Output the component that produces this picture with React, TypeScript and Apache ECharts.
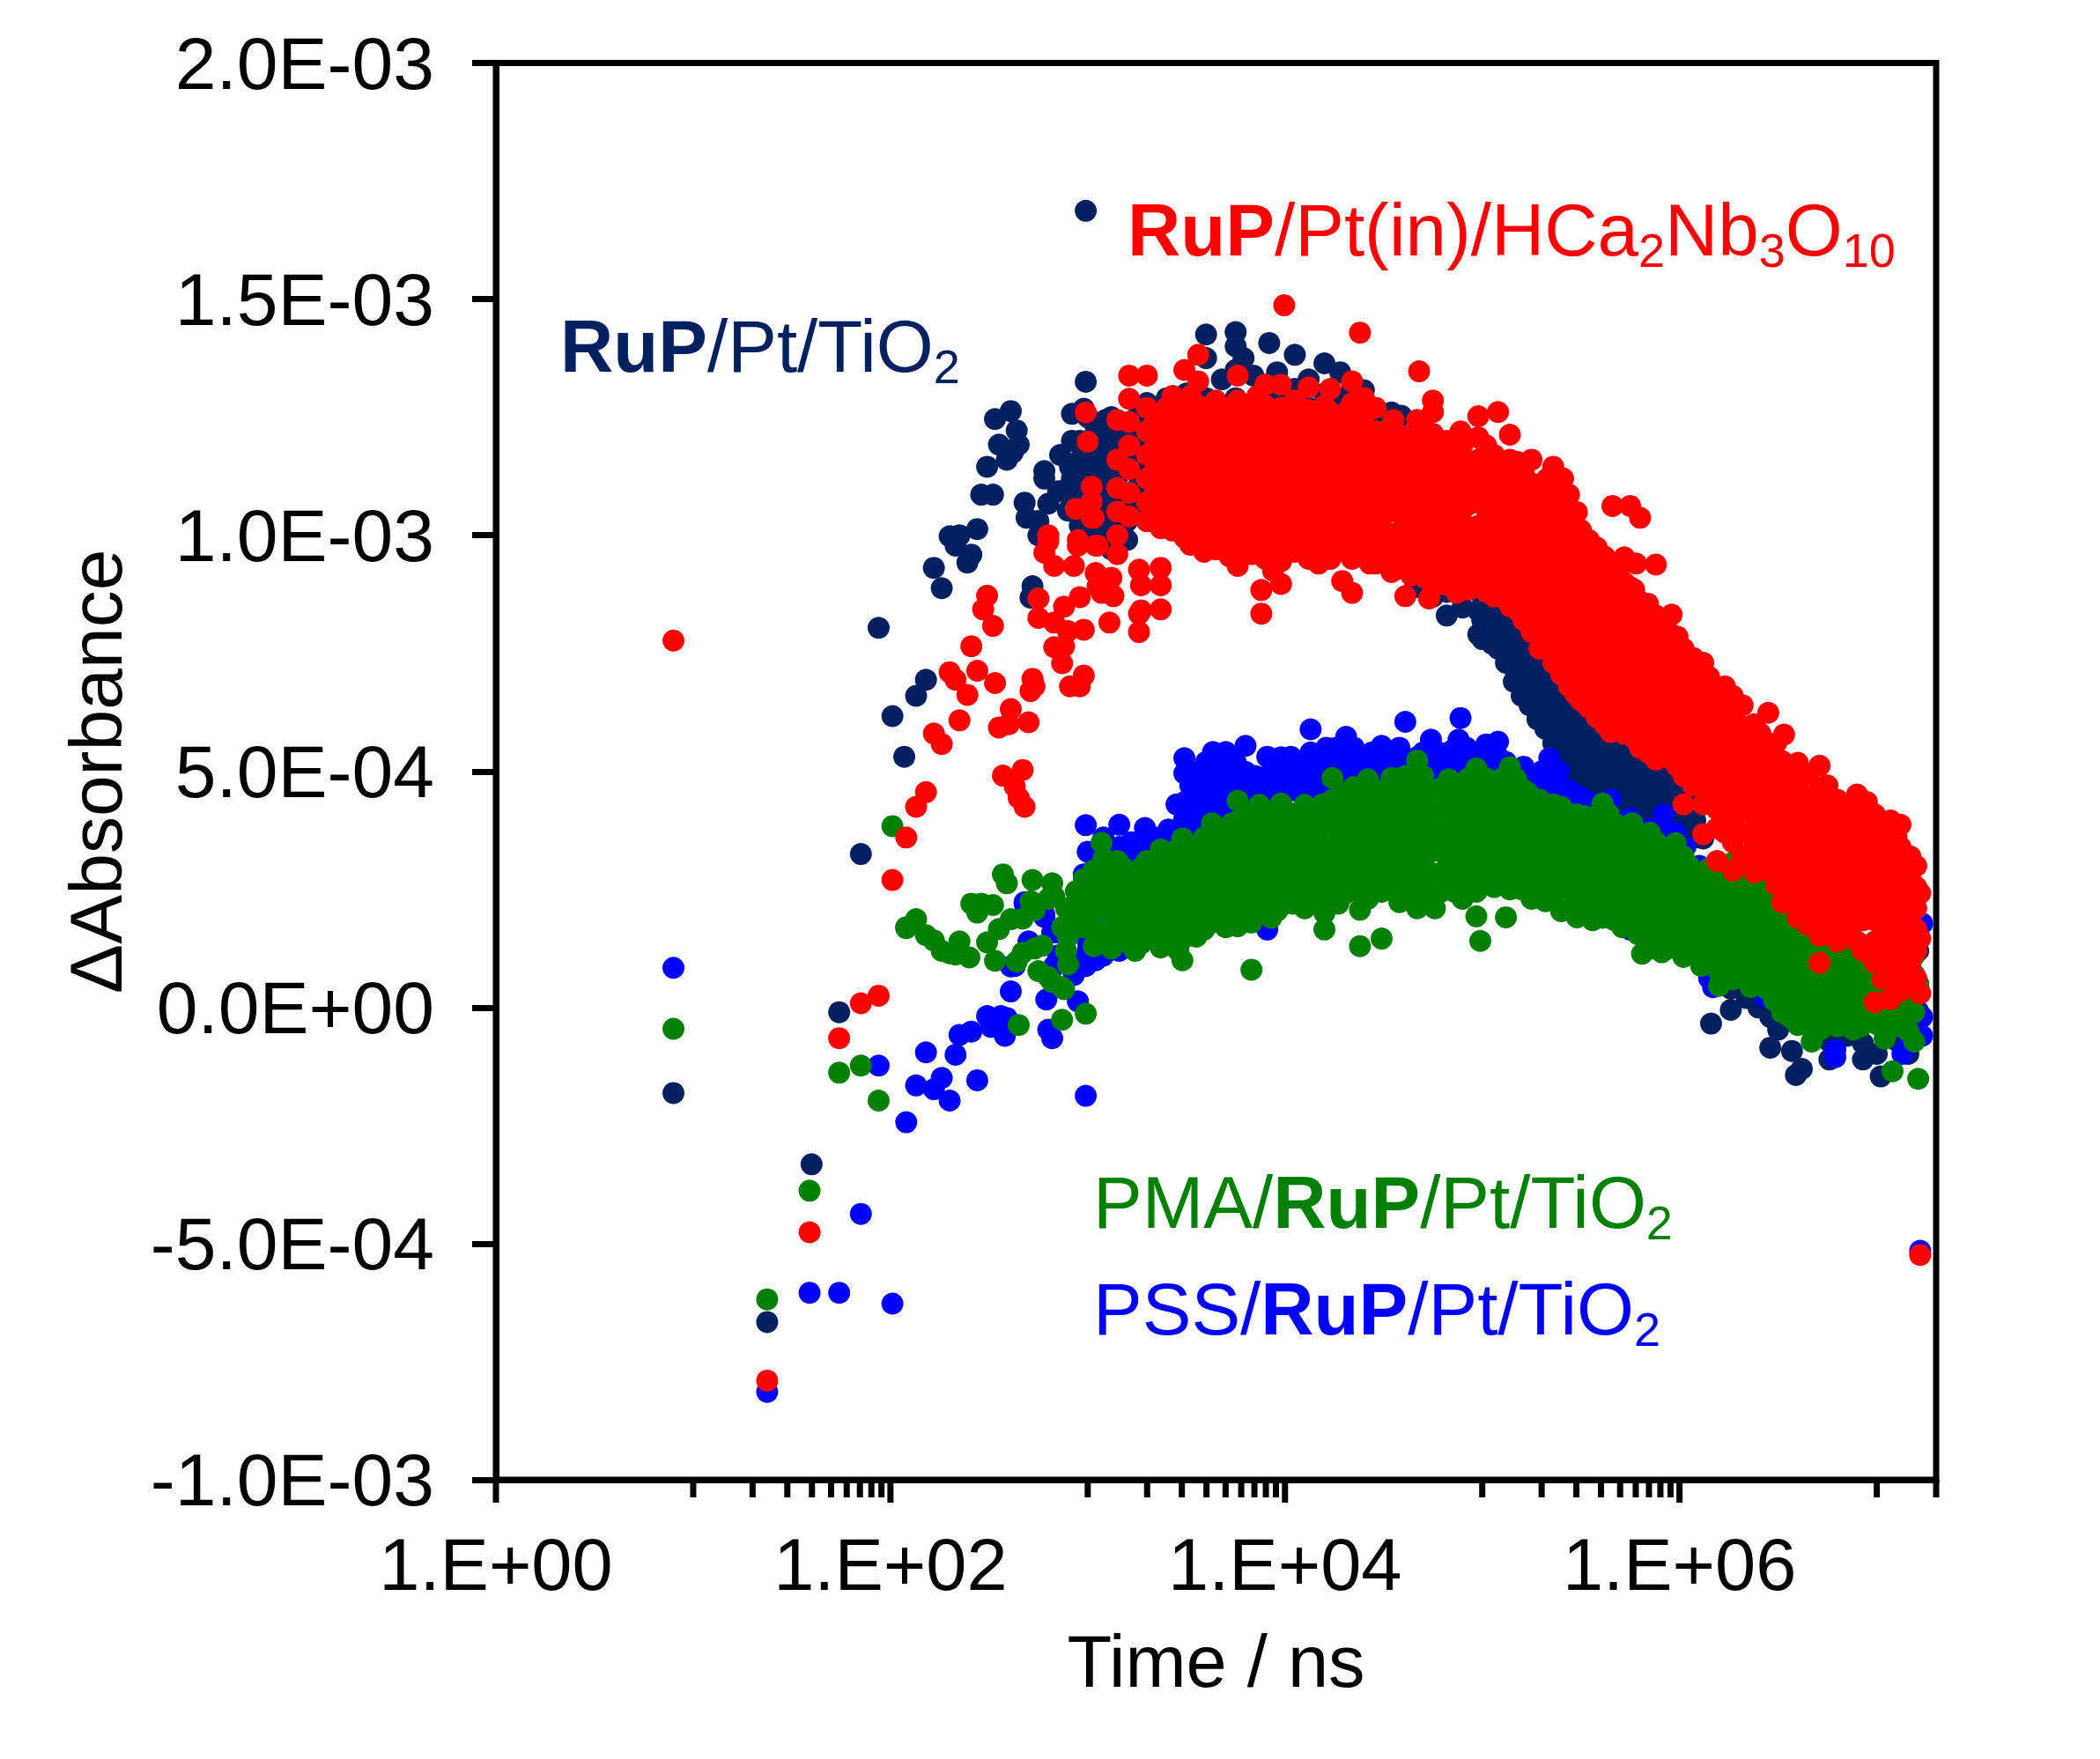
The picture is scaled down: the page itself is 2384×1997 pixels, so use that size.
import React, { useEffect, useRef } from "react";
import * as echarts from "echarts";

// All lists: [log10(time / ns), absorbance in units of 1E-4, ...]
const navyColumns: number[][] = [
  [0.9, -1.81], [1.375, -6.66], [1.6, -3.32], [1.74, -0.1], [1.85, 3.25], [1.94, 8.04], [2.01, 6.17], [2.07, 5.31],
  [2.13, 6.6], [2.18, 6.94], [2.22, 9.31], [2.26, 8.88], [2.3, 9.98], [2.33, 9.78], [2.35, 10.0], [2.39, 9.42],
  [2.41, 9.59], [2.44, 10.13], [2.46, 10.86], [2.52, 10.86], [2.49, 11.45], [2.53, 12.46], [2.55, 11.92], [2.59, 11.6],
  [2.61, 12.63], [2.64, 12.22], [2.65, 11.92], [2.62, 11.75], [2.68, 10.69], [2.69, 10.37], [2.72, 8.92], [2.71, 8.68],
  [2.75, 10.3, 10.0], [2.78, 11.36, 11.2], [2.8, 10.67], [2.85, 10.93], [2.86, 11.7], [2.9, 10.52, 11.0], [2.91, 11.45],
  [2.92, 12.57], [2.96, 12.0, 11.6, 11.1, 10.7, 10.2], [2.98, 12.68], [2.99, 16.87, 13.25], [3.0, 12.5],
  [3.04, 12.3, 11.9, 11.4, 10.9, 10.5, 10.1], [3.09, 12.44], [3.12, 12.5, 12.0, 11.5, 11.0, 10.6, 10.1, 9.7],
  [3.2, 12.3, 11.8, 11.4, 10.8, 10.3, 9.9], [3.3, 12.8, 12.2, 11.6, 11.0, 10.3], [3.4, 12.9, 12.2, 11.2, 10.4],
  [3.5, 13.0, 12.4, 11.4, 10.2], [3.6, 14.25, 13.75, 12.9, 12.1], [3.68, 13.3, 12.6, 10.2], [3.75, 14.3, 14.0, 13.5, 12.9],
  [3.79, 13.75], [3.84, 13.38, 12.8], [3.92, 14.07, 13.2, 12.5, 9.59], [3.96, 13.45, 12.9], [4.05, 13.82, 13.1, 12.4],
  [4.12, 13.3, 12.7, 9.8], [4.2, 13.64, 13.0, 12.2], [4.28, 13.45, 12.9, 9.72], [4.34, 13.2, 12.5], [4.4, 13.07, 12.4],
  [4.46, 12.6, 12.1, 9.65], [4.54, 12.6, 12.0], [4.59, 12.53, 11.8, 9.3], [4.66, 12.0, 11.2, 8.9], [4.75, 11.7, 9.6, 8.7],
  [4.82, 11.2, 9.4, 8.8, 8.3], [4.9, 9.9, 9.2, 8.47], [4.98, 9.6, 9.0, 8.4, 7.9], [5.05, 9.5, 8.9, 8.3, 7.7], [5.12, 8.9, 8.3, 7.8, 7.3],
  [5.2, 8.5, 8.0, 7.5, 7.0, 6.6], [5.28, 8.1, 7.6, 7.1, 6.6, 6.1], [5.36, 7.6, 7.2, 6.7, 6.2, 5.6], [5.44, 7.2, 6.7, 6.3, 5.8, 5.3, 5.0],
  [5.52, 6.8, 6.3, 5.9, 5.4, 4.9], [5.6, 6.3, 5.8, 5.3, 4.9, 4.5], [5.68, 5.8, 5.3, 4.9, 4.5, 4.2], [5.76, 5.5, 5.0, 4.6, 4.2],
  [5.84, 5.2, 4.8, 4.4, 4.2], [5.92, 5.0, 4.6, 4.3], [5.98, 4.8, 4.4, 4.1], [6.08, 3.96, 3.6], [6.12, 3.58],
  [6.16, -0.34], [6.2, 0.6], [6.26, -0.05, 0.4], [6.34, 0.2], [6.4, 0.0, 0.4], [6.46, -0.85, -0.2], [6.5, -0.47, 0.1], [6.57, -0.92],
  [6.59, -1.43], [6.62, -1.3], [6.68, -0.5], [6.76, -0.47, -0.72, -1.1], [6.85, -0.6], [6.93, -0.76, -1.1], [7.0, -0.98],
  [7.02, -1.46], [7.1, -0.7], [7.16, -0.98], [7.21, -0.08, 0.5, 1.2],
];

const navyDense: number[][] = [
  [2.92, 12.0, 11.2, 10.8], [3.0, 12.0, 11.6, 11.2, 10.8, 10.4], [3.08, 12.1, 11.7, 11.2, 10.8, 10.3],
  [3.16, 12.2, 11.7, 11.3, 10.8, 10.4, 9.9], [3.25, 12.5, 12.0, 11.5, 11.0, 10.5], [3.35, 12.4, 11.8, 11.2],
  [5.0, 9.2, 8.7, 8.2, 7.8], [5.08, 9.1, 8.6, 8.1, 7.6], [5.16, 8.7, 8.2, 7.7, 7.2, 6.9], [5.24, 8.2, 7.8, 7.3, 6.8, 6.4],
  [5.32, 7.9, 7.4, 6.9, 6.4, 5.9], [5.4, 7.4, 6.95, 6.45, 6.0, 5.5], [5.48, 6.9, 6.5, 6.05, 5.6, 5.15, 4.85],
  [5.56, 6.5, 6.05, 5.65, 5.15, 4.7], [5.64, 6.0, 5.55, 5.1, 4.7, 4.35], [5.72, 5.6, 5.1, 4.7, 4.35], [5.8, 5.3, 4.85, 4.45, 4.2],
  [5.88, 5.1, 4.7, 4.35], [5.95, 4.9, 4.5, 4.2], [6.03, 4.4, 4.0, 3.7],
];

const blueColumns: number[][] = [
  [0.9, 0.84], [1.375, -8.14], [1.59, -6.04], [1.74, -6.04], [1.85, -4.37], [1.94, -1.23], [2.01, -6.27], [2.08, -2.43],
  [2.13, -1.65], [2.18, -0.95], [2.22, -1.73], [2.26, -1.49], [2.3, -1.97], [2.33, -1.0], [2.35, -0.58], [2.41, -0.51],
  [2.44, -1.54], [2.49, -0.18], [2.51, -0.41], [2.56, -0.18], [2.58, -0.6], [2.59, -0.22], [2.61, 0.34, 0.87], [2.63, 0.88],
  [2.68, 2.2, 2.23], [2.7, 1.4], [2.78, 1.92, 1.97], [2.79, 0.17], [2.8, -0.47], [2.82, -0.65, 1.59], [2.83, 0.88], [2.85, 1.59, 1.1],
  [2.93, 0.73, 0.69], [2.95, 0.13], [2.98, 2.82, 2.4], [2.99, -1.87, 3.86, 1.07, 0.88],
  [3.0, 3.3, 2.8, 2.4, 1.9, 1.4, 1.2], [3.08, 3.6, 3.2, 2.8, 2.3, 1.9, 1.5, 1.1], [3.16, 3.87, 3.4, 3.0, 2.5, 2.1, 1.6, 1.2],
  [3.22, 3.5, 3.1, 2.7, 1.6], [3.29, 3.8, 3.3, 2.9], [3.36, 3.6, 3.2], [3.41, 3.77, 3.3], [3.49, 5.28, 4.96, 4.35, 4.0, 3.7, 3.3],
  [3.56, 4.9, 4.5, 4.1, 3.7], [3.635, 5.41, 5.0, 4.6, 4.2, 3.8], [3.7, 5.41, 5.0, 4.6, 4.2], [3.8, 5.54, 4.99, 4.6, 4.3],
  [3.85, 4.9, 4.5], [3.91, 5.31, 4.9, 4.5, 1.65], [3.98, 5.3, 4.9, 4.5], [4.03, 5.31, 4.95, 4.6], [4.13, 5.89, 5.4, 5.0, 4.6],
  [4.21, 5.5, 5.1, 4.8], [4.31, 5.73, 5.3, 4.95], [4.38, 5.3, 5.0], [4.49, 5.54, 5.15, 4.9], [4.55, 5.3, 4.95], [4.61, 6.05, 5.2],
  [4.67, 5.3, 5.0], [4.74, 5.67, 5.3, 5.0], [4.82, 5.3, 5.0], [4.88, 5.67, 5.3], [4.89, 6.13], [4.96, 5.3, 5.0], [5.02, 5.57, 5.2],
  [5.08, 5.63, 5.31, 5.0], [5.17, 5.0, 4.7], [5.25, 4.9, 4.5], [5.34, 5.28, 4.9, 4.5], [5.39, 5.0, 4.6, 4.2], [5.48, 4.5, 4.2, 3.8],
  [5.57, 4.3, 3.9], [5.65, 4.41, 4.0, 3.6], [5.75, 4.0, 3.6, 1.65], [5.92, 4.09, 3.7, 3.3], [5.98, 3.7, 3.3, 2.9], [6.1, 3.0, 2.6],
  [6.15, 0.62], [6.17, 0.43], [6.3, 2.9, 2.5], [6.43, 2.62, 0.24], [6.53, 2.49], [6.69, 2.78], [6.79, -1.05, -0.9], [7.13, -0.98],
  [7.16, -0.79], [7.22, -5.15], [7.23, 1.78, -0.2, -0.6],
];

const blueDense: number[][] = [
  [3.04, 3.1, 2.6, 2.1, 1.7, 1.3, 1.0], [3.12, 3.3, 2.9, 2.45, 2.05, 1.65], [3.2, 3.25, 2.85, 2.4], [3.26, 3.5, 3.0, 2.6], [3.33, 3.4, 3.0],
  [3.45, 4.3, 3.5, 3.1], [3.52, 5.0, 4.7, 4.3, 3.9, 3.5], [3.6, 5.2, 4.8, 4.4, 4.0], [3.67, 5.2, 4.8, 4.4, 4.0], [3.75, 5.2, 4.8, 4.4],
  [3.95, 5.1, 4.7], [4.0, 5.1, 4.7], [4.09, 5.2, 4.8, 4.5], [4.17, 5.3, 4.9, 4.7], [4.26, 5.5, 5.1, 4.9], [4.35, 5.5, 5.1, 4.9],
  [4.44, 5.4, 5.0], [4.52, 5.3, 5.05], [4.58, 5.5, 5.1], [4.7, 5.4, 5.1], [4.78, 5.4, 5.15], [4.85, 5.45, 5.15], [4.92, 5.5, 5.2],
  [5.0, 5.3, 5.05], [5.12, 5.2, 4.9], [5.21, 5.1, 4.8], [5.3, 5.0, 4.65], [5.36, 4.7, 4.3], [5.44, 4.6, 4.2], [5.52, 4.4, 4.0],
  [5.61, 4.1, 3.7], [5.7, 3.9, 3.6], [5.8, 3.8, 3.4], [5.87, 3.8, 3.4], [6.03, 3.4, 3.0], [6.2, 2.9, 2.5],
];

const greenColumns: number[][] = [
  [0.9, -0.45], [1.375, -6.18], [1.59, -3.88], [1.74, -1.38], [1.85, -1.23], [1.94, -1.97], [2.01, 3.84],
  [2.08, 1.68, 1.7], [2.13, 1.87], [2.18, 1.53], [2.22, 1.42], [2.26, 1.2], [2.3, 1.15], [2.33, 1.12], [2.35, 1.4], [2.4, 1.06],
  [2.41, 2.2], [2.44, 2.01], [2.46, 2.2], [2.49, 1.38], [2.52, 2.17], [2.53, 0.99], [2.55, 1.66], [2.57, 2.82], [2.59, 2.63],
  [2.61, 1.87], [2.64, 0.97], [2.65, -0.37], [2.67, 1.88, 1.16], [2.71, 2.25], [2.72, 2.7], [2.73, 2.06, 1.25], [2.75, 0.77],
  [2.77, 1.31], [2.8, 2.3, 0.65], [2.82, 2.63, 0.54], [2.83, 2.35], [2.87, -0.26, 0.43, 1.7], [2.88, 0.39], [2.89, 1.2, 2.1], [2.9, 0.91, 1.5],
  [2.94, 2.46, 1.8], [2.98, 2.72, 2.2, 1.7], [2.99, -0.13], [3.03, 2.9, 2.4, 1.9, 1.3], [3.07, 3.49, 3.0, 2.5, 1.6], [3.08, 3.15],
  [3.12, 2.9, 2.5, 2.1, 1.7, 1.25], [3.18, 2.95, 2.5, 2.2, 1.8, 1.4], [3.24, 2.8, 2.4, 2.0, 1.65, 1.2], [3.3, 3.1, 2.65, 2.3, 1.9, 1.5],
  [3.37, 3.35, 2.9, 2.5, 2.1, 1.7, 1.27], [3.43, 3.3, 2.8, 2.45, 2.05, 1.6], [3.48, 3.58, 3.1, 2.65, 2.2, 1.8, 1.45, 1.0],
  [3.55, 3.4, 3.0, 2.55, 2.15, 1.75, 1.5], [3.63, 3.9, 3.45, 3.0, 2.6, 2.2, 1.8], [3.7, 3.7, 3.25, 2.85, 2.45, 2.05, 1.7],
  [3.76, 4.38, 3.95, 3.5, 3.1, 2.65, 2.25, 1.72], [3.83, 3.9, 3.45, 3.05, 2.6, 2.2, 1.8, 0.8], [3.87, 4.29, 3.85, 3.4, 2.95, 2.5, 2.1],
  [3.93, 4.0, 3.55, 3.1, 2.7, 2.3, 1.9], [3.98, 4.32, 3.9, 3.45, 3.0, 2.6, 2.15], [4.04, 3.95, 3.5, 3.05, 2.65, 2.2],
  [4.1, 4.29, 3.85, 3.4, 3.0, 2.6, 2.1], [4.16, 4.1, 3.65, 3.2, 2.8, 2.35], [4.2, 1.65, 2.0], [4.24, 4.86, 4.4, 3.95, 3.5, 3.1, 2.65, 2.2],
  [4.3, 4.55, 4.1, 3.7, 3.25, 2.85, 2.4], [4.35, 4.67, 4.25, 3.8, 3.4, 2.95, 2.5], [4.38, 1.3, 2.07], [4.42, 4.83, 4.4, 3.95, 3.5, 3.05, 2.65, 2.3],
  [4.49, 4.5, 4.05, 3.6, 3.2, 2.8, 2.45, 1.46], [4.54, 4.86, 4.4, 3.95, 3.5, 3.05, 2.65], [4.58, 2.23], [4.61, 4.9, 4.45, 4.0, 3.6, 3.2, 2.75, 2.4],
  [4.67, 5.23, 4.7, 4.25, 3.8, 3.35, 2.95, 2.5, 2.1], [4.74, 4.6, 4.15, 3.7, 3.3, 2.85, 2.4], [4.76, 2.1], [4.83, 4.83, 4.35, 3.9, 3.45, 3.0, 2.6],
  [4.9, 4.7, 4.25, 3.8, 3.35, 2.95, 2.3], [4.97, 5.06, 4.6, 4.15, 3.7, 3.25, 2.8, 2.45, 1.93], [4.99, 1.41], [5.06, 4.7, 4.25, 3.8, 3.4, 2.95, 2.55],
  [5.12, 1.91], [5.14, 5.09, 4.6, 4.15, 3.75, 3.3, 2.85, 2.5], [5.2, 4.64, 4.2, 3.75, 3.3, 2.9, 2.5], [5.25, 4.3, 3.85, 3.45, 3.0, 2.65, 2.3],
  [5.32, 4.3, 3.85, 3.45, 3.05, 2.6, 2.25], [5.4, 4.25, 3.8, 3.4, 3.0, 2.6, 2.04], [5.48, 4.09, 3.65, 3.25, 2.85, 2.45, 2.1, 1.91],
  [5.56, 3.85, 3.45, 3.05, 2.65, 2.25, 1.85], [5.61, 4.32, 3.9, 3.5, 3.1, 2.7, 2.3, 1.9], [5.67, 3.9, 3.5, 3.1, 2.7, 2.3, 1.85],
  [5.76, 3.9, 3.45, 3.0, 2.6, 2.2, 1.75], [5.81, 3.5, 3.1, 2.65, 2.25, 1.8, 1.14], [5.88, 3.5, 3.05, 2.65, 2.25, 1.8, 1.45],
  [5.91, 1.17], [5.98, 3.48, 3.0, 2.6, 2.2, 1.8, 1.4], [6.02, 1.07], [6.05, 3.0, 2.6, 2.2, 1.8, 1.4], [6.11, 2.8, 2.4, 2.0, 1.6, 1.2, 0.88],
  [6.2, 2.75, 2.35, 1.95, 1.55, 1.15, 0.75, 0.46], [6.27, 3.07, 2.6, 2.2, 1.8, 1.4, 1.0, 0.6], [6.36, 2.87, 2.4, 2.0, 1.6, 1.2, 0.8, 0.43],
  [6.44, 2.4, 2.0, 1.6, 1.2, 0.8, 0.4], [6.52, 2.2, 1.8, 1.4, 1.0, 0.6, 0.2, -0.1], [6.6, 1.9, 1.5, 1.1, 0.7, 0.3, -0.1, -0.37],
  [6.67, 1.7, 1.3, 0.9, 0.5, 0.1, -0.3, -0.72], [6.76, 1.6, 1.2, 0.8, 0.4, 0.0, -0.35], [6.84, 1.4, 1.0, 0.6, 0.2, -0.2],
  [6.88, 1.3, 0.9, 0.5, 0.1, -0.47], [6.96, 1.3, 0.9, 0.5, 0.1, -0.3], [7.04, 1.4, 1.0, 0.6, 0.2, -0.2, -0.66], [7.08, -1.35],
  [7.12, 1.2, 0.8, 0.4, 0.0, -0.4], [7.19, 1.1, 0.7, 0.3, -0.1, -0.72], [7.21, -1.51, 0.5],
];

const greenDense: number[][] = [
  [3.05, 2.7, 2.2, 1.7], [3.15, 3.1, 2.7, 2.3, 1.9, 1.5], [3.21, 2.6, 2.2, 1.8, 1.45], [3.27, 2.95, 2.5, 2.1, 1.75, 1.35],
  [3.33, 3.1, 2.7, 2.3, 1.85, 1.45], [3.4, 3.1, 2.7, 2.25, 1.85, 1.5], [3.46, 3.3, 2.85, 2.45, 2.0, 1.6, 1.2], [3.52, 3.2, 2.8, 2.35, 1.95, 1.6],
  [3.59, 3.6, 3.2, 2.8, 2.4, 1.95, 1.65], [3.66, 3.5, 3.05, 2.65, 2.25, 1.85], [3.73, 3.9, 3.45, 3.05, 2.65, 2.25, 1.9],
  [3.8, 4.1, 3.7, 3.25, 2.85, 2.45, 2.0], [3.9, 3.65, 3.2, 2.85, 2.4, 2.0], [3.96, 4.1, 3.7, 3.25, 2.85, 2.45, 2.05],
  [4.01, 4.15, 3.7, 3.3, 2.85, 2.4], [4.07, 4.1, 3.65, 3.2, 2.8, 2.4], [4.13, 4.0, 3.6, 3.15, 2.75, 2.35], [4.19, 4.3, 3.9, 3.45, 3.0, 2.55],
  [4.27, 4.3, 3.85, 3.4, 3.0, 2.6, 2.2], [4.33, 4.4, 3.95, 3.5, 3.1, 2.65], [4.39, 4.5, 4.05, 3.6, 3.15, 2.75, 2.4],
  [4.46, 4.6, 4.2, 3.75, 3.35, 2.95, 2.55], [4.52, 4.65, 4.2, 3.8, 3.35, 2.9, 2.5], [4.57, 4.6, 4.2, 3.75, 3.35, 2.95, 2.55],
  [4.64, 4.7, 4.25, 3.8, 3.4, 3.0, 2.6, 2.25], [4.7, 4.9, 4.45, 4.0, 3.55, 3.15, 2.7, 2.3], [4.79, 4.65, 4.2, 3.75, 3.3, 2.85, 2.45],
  [4.86, 4.6, 4.1, 3.65, 3.25, 2.8, 2.45], [4.93, 4.85, 4.4, 3.95, 3.5, 3.1, 2.65], [5.02, 4.85, 4.45, 4.0, 3.6, 3.1, 2.7],
  [5.1, 4.85, 4.4, 3.95, 3.55, 3.1, 2.7], [5.17, 4.85, 4.4, 3.95, 3.5, 3.1, 2.7], [5.23, 4.55, 4.1, 3.65, 3.2, 2.8, 2.45],
  [5.29, 4.4, 4.0, 3.6, 3.2, 2.85, 2.45], [5.36, 4.3, 3.95, 3.6, 3.2, 2.8, 2.4], [5.44, 4.1, 3.7, 3.3, 2.9, 2.5, 2.1],
  [5.52, 4.05, 3.65, 3.25, 2.85, 2.45, 2.05], [5.58, 4.05, 3.65, 3.25, 2.85, 2.45, 2.05], [5.64, 4.1, 3.7, 3.3, 2.9, 2.5, 2.1],
  [5.71, 3.7, 3.3, 2.9, 2.5, 2.05, 1.7], [5.79, 3.65, 3.25, 2.85, 2.45, 2.0, 1.55], [5.85, 3.7, 3.3, 2.85, 2.45, 2.0, 1.6, 1.25],
  [5.94, 3.25, 2.85, 2.45, 2.0, 1.6, 1.25], [6.02, 3.2, 2.8, 2.4, 2.0, 1.6, 1.25], [6.08, 2.8, 2.4, 2.0, 1.6, 1.2],
  [6.15, 2.95, 2.55, 2.15, 1.75, 1.35, 0.95], [6.24, 2.6, 2.2, 1.75, 1.35, 0.95, 0.6], [6.32, 2.75, 2.35, 1.95, 1.55, 1.15, 0.75],
  [6.4, 2.6, 2.2, 1.8, 1.4, 1.0, 0.6], [6.48, 2.2, 1.8, 1.4, 1.0, 0.6, 0.15], [6.56, 2.0, 1.6, 1.2, 0.8, 0.4, 0.0, -0.2],
  [6.64, 1.7, 1.3, 0.9, 0.5, 0.1, -0.25], [6.72, 1.5, 1.1, 0.7, 0.3, -0.1, -0.45], [6.8, 1.4, 1.0, 0.6, 0.2, -0.15, -0.4],
  [6.92, 1.1, 0.7, 0.3, -0.1, -0.4], [7.0, 1.2, 0.8, 0.4, 0.0, -0.35], [7.08, 1.2, 0.8, 0.4, 0.0, -0.4], [7.16, 1.0, 0.6, 0.2, -0.2, -0.5],
];

const redColumns: number[][] = [
  [0.9, 7.77], [1.375, -7.9], [1.59, -4.76], [1.74, -0.65], [1.85, 0.09], [1.94, 0.25], [2.01, 2.7], [2.08, 3.6],
  [2.13, 4.25], [2.18, 4.56], [2.22, 5.8], [2.26, 5.58], [2.3, 7.1], [2.33, 6.94], [2.35, 6.08], [2.39, 6.62], [2.41, 7.65],
  [2.44, 7.13], [2.47, 8.43], [2.49, 8.72], [2.52, 8.08], [2.53, 6.87], [2.55, 5.93], [2.57, 4.91], [2.6, 6.0], [2.61, 6.32],
  [2.63, 4.68], [2.65, 4.44], [2.67, 5.03], [2.68, 4.25], [2.7, 6.04], [2.71, 6.7], [2.72, 6.96], [2.73, 6.8], [2.75, 8.25, 8.66],
  [2.78, 9.63], [2.8, 9.87, 10.0], [2.83, 7.63, 8.15, 9.35], [2.87, 7.29], [2.88, 7.65, 8.49], [2.9, 7.97], [2.91, 6.8],
  [2.93, 9.35], [2.94, 10.56], [2.95, 9.78, 9.9], [2.96, 6.8, 8.69], [2.98, 7.03, 8.0], [2.99, 12.6], [3.0, 11.98],
  [3.02, 11.03, 10.71, 10.37], [3.03, 10.37], [3.04, 9.78, 9.2], [3.05, 9.78, 8.92], [3.07, 8.78], [3.11, 8.15], [3.12, 9.1],
  [3.13, 8.72, 8.71], [3.15, 12.44, 11.6, 11.0, 10.5, 10.0, 9.6], [3.21, 13.38, 12.89, 12.4, 11.9, 11.4, 10.9, 10.4],
  [3.26, 8.34, 7.95, 9.27], [3.27, 8.41, 8.94], [3.3, 13.38, 12.7, 12.2, 11.7, 11.2, 10.7, 10.3], [3.37, 12.5, 12.05, 11.55, 11.05, 10.6, 10.15, 9.31, 8.94, 8.43],
  [3.43, 12.95, 12.45, 11.95, 11.5, 11.0, 10.5, 10.1], [3.49, 13.5, 12.7, 12.2, 11.75, 11.3, 10.85, 10.4, 9.95],
  [3.56, 13.82, 13.26, 12.75, 12.3, 11.8, 11.35, 10.9, 10.45, 10.0], [3.59, 9.65], [3.65, 12.85, 12.4, 11.95, 11.5, 11.05, 10.6, 10.15, 9.7],
  [3.72, 12.7, 12.2, 11.75, 11.3, 10.85, 10.4, 9.95, 9.55], [3.76, 13.38, 12.85, 12.4, 11.9, 11.45, 11.0, 10.5, 10.05, 9.35],
  [3.83, 12.7, 12.25, 11.8, 11.35, 10.9, 10.45, 10.0, 9.6], [3.88, 8.84, 8.34], [3.9, 13.19, 12.75, 12.3, 11.85, 11.4, 10.95, 10.5, 10.0, 9.5],
  [3.98, 13.19, 12.7, 12.25, 11.75, 11.3, 10.85, 10.4, 9.95, 9.45, 8.97], [3.996, 14.87], [4.05, 12.85, 12.4, 11.95, 11.5, 11.05, 10.55, 10.1, 9.65],
  [4.12, 13.13, 12.65, 12.2, 11.75, 11.3, 10.85, 10.35, 9.9, 9.5], [4.17, 12.5, 12.0, 11.55, 11.1, 10.6, 10.15, 9.7, 9.4],
  [4.23, 13.1, 12.6, 12.15, 11.7, 11.25, 10.8, 10.35, 9.9, 9.5], [4.29, 12.45, 12.0, 11.5, 11.05, 10.6, 10.15, 9.7, 9.03],
  [4.34, 13.26, 12.8, 12.25, 11.8, 11.35, 10.9, 10.4, 9.95, 9.5, 8.78], [4.38, 14.29], [4.4, 12.91, 12.4, 12.0, 11.5, 11.05, 10.6, 10.1, 9.65],
  [4.46, 12.7, 12.2, 11.75, 11.3, 10.8, 10.35, 9.9, 9.4], [4.54, 12.3, 11.85, 11.4, 10.95, 10.5, 10.0, 9.55, 9.22],
  [4.55, 12.44], [4.61, 12.1, 11.65, 11.2, 10.75, 10.3, 9.85, 9.4, 8.71], [4.67, 12.44, 11.95, 11.5, 11.05, 10.6, 10.15, 9.7, 9.25],
  [4.68, 13.47], [4.75, 12.85, 12.61, 12.15, 11.7, 11.25, 10.75, 10.3, 9.85, 9.4, 8.9], [4.73, 8.66],
  [4.82, 12.0, 11.55, 11.1, 10.65, 10.2, 9.75, 9.3, 8.95], [4.87, 8.78], [4.89, 12.2, 11.75, 11.3, 10.85, 10.4, 9.95, 9.5, 9.05],
  [4.9, 11.92], [4.98, 12.52, 12.07, 11.6, 11.15, 10.7, 10.2, 9.75, 9.3, 8.9], [5.06, 11.7, 11.25, 10.8, 10.35, 9.9, 9.45, 9.0, 8.7],
  [5.08, 12.61], [5.14, 12.13, 11.6, 11.15, 10.7, 10.25, 9.8, 9.35, 8.9, 8.5], [5.21, 11.35, 10.9, 10.45, 10.0, 9.55, 9.1, 8.65, 8.2],
  [5.25, 11.6], [5.29, 11.0, 10.6, 10.15, 9.7, 9.25, 8.8, 8.35, 7.9, 7.6], [5.36, 11.45, 10.9, 10.45, 10.0, 9.55, 9.1, 8.65, 8.2, 7.75, 7.3],
  [5.41, 11.2], [5.44, 10.86, 10.4, 9.95, 9.5, 9.05, 8.6, 8.15, 7.7, 7.25, 6.8], [5.48, 10.49], [5.5, 10.11, 9.65, 9.2, 8.75, 8.3, 7.85, 7.4, 6.95, 6.5],
  [5.58, 9.74, 9.3, 8.85, 8.4, 7.95, 7.5, 7.05, 6.6, 6.15], [5.65, 9.4, 9.0, 8.55, 8.1, 7.65, 7.2, 6.75, 6.3, 5.83], [5.66, 10.62], [5.72, 9.53, 9.0, 8.55, 8.1, 7.65, 7.2, 6.75, 6.3, 5.8],
  [5.75, 10.62, 8.9], [5.78, 9.4], [5.8, 10.37, 8.6, 8.15, 7.7, 7.25, 6.8, 6.35, 5.9, 5.5], [5.81, 8.47], [5.88, 9.38, 8.3, 7.85, 7.4, 6.95, 6.5, 6.05, 5.6, 5.25],
  [5.96, 8.32, 7.9, 7.45, 7.0, 6.55, 6.1, 5.65, 5.25], [6.02, 7.6, 7.15, 6.7, 6.25, 5.8, 5.35, 4.9, 4.3], [6.12, 7.3, 6.85, 6.4, 5.95, 5.5, 5.05, 4.3, 3.67],
  [6.19, 6.4, 6.0, 5.55, 5.1, 4.65, 4.2, 3.8, 3.1], [6.27, 6.6, 6.15, 5.7, 5.25, 4.8, 4.35, 3.9, 3.5, 2.9], [6.38, 6.0, 5.6, 5.15, 4.7, 4.25, 3.77, 3.4, 2.86],
  [6.45, 6.24, 5.5, 5.05, 4.6, 4.15, 3.7, 3.3, 2.9], [6.52, 5.22, 4.8, 4.35, 3.9, 3.45, 3.0, 2.55, 2.23], [6.53, 5.78],
  [6.6, 5.18, 4.7, 4.25, 3.8, 3.35, 2.9, 2.45, 1.9], [6.71, 5.12, 4.65, 4.2, 3.75, 3.3, 2.85, 2.4, 1.95, 1.52, 0.95],
  [6.8, 4.4, 4.0, 3.55, 3.1, 2.65, 2.2, 1.8, 1.4], [6.9, 4.51, 4.1, 3.65, 3.2, 2.75, 2.3, 1.85, 1.4], [6.95, 4.35, 3.9, 3.45, 3.0, 2.55, 2.1],
  [6.99, 4.09, 3.6, 3.2, 2.75, 2.3, 1.85, 1.4, 0.95, 0.11], [7.07, 3.96, 3.5, 3.05, 2.6, 2.15, 1.7, 1.25, 0.8, 0.18], [7.12, 3.87, 3.4, 2.95, 2.5, 2.05, 1.6, 1.15, 0.7, 0.35],
  [7.2, 3.0, 2.55, 2.1, 1.65, 1.2, 0.62], [7.22, -5.24, 2.42, 1.46, 0.3],
];

const redDense: number[][] = [
  [3.33, 12.3, 11.8, 11.3, 10.8, 10.4], [3.4, 12.7, 12.2, 11.75, 11.25, 10.75, 10.3], [3.46, 12.2, 11.7, 11.25, 10.75, 10.25],
  [3.52, 12.95, 12.45, 12.0, 11.55, 11.1, 10.6, 10.2, 9.8], [3.6, 12.5, 12.05, 11.6, 11.15, 10.7, 10.25, 9.85],
  [3.68, 12.6, 12.15, 11.7, 11.25, 10.8, 10.35, 9.9], [3.74, 12.45, 12.0, 11.5, 11.05, 10.6, 10.2, 9.75],
  [3.8, 12.5, 12.0, 11.55, 11.1, 10.65, 10.2, 9.8], [3.86, 12.95, 12.5, 12.05, 11.6, 11.15, 10.7, 10.25, 9.8],
  [3.94, 12.5, 12.05, 11.6, 11.1, 10.65, 10.2, 9.7, 9.25], [4.01, 12.5, 12.05, 11.55, 11.05, 10.6, 10.15, 9.7],
  [4.08, 12.65, 12.15, 11.7, 11.25, 10.8, 10.3, 9.85], [4.14, 12.4, 11.95, 11.5, 11.05, 10.6, 10.1, 9.65],
  [4.2, 12.75, 12.25, 11.8, 11.35, 10.85, 10.4, 9.95], [4.26, 12.35, 11.9, 11.45, 11.0, 10.55, 10.1, 9.65],
  [4.32, 12.65, 12.2, 11.75, 11.3, 10.8, 10.35, 9.9], [4.37, 12.55, 12.05, 11.55, 11.1, 10.65, 10.15, 9.7],
  [4.43, 12.15, 11.7, 11.25, 10.8, 10.35, 9.85, 9.4], [4.5, 12.0, 11.5, 11.05, 10.6, 10.1, 9.65],
  [4.57, 11.9, 11.45, 10.95, 10.5, 10.05, 9.6], [4.64, 11.9, 11.45, 11.0, 10.5, 10.05, 9.6, 9.15],
  [4.71, 12.2, 11.75, 11.3, 10.85, 10.4, 9.95, 9.5, 9.1], [4.78, 11.9, 11.45, 11.0, 10.5, 10.05, 9.6, 9.15],
  [4.85, 11.8, 11.3, 10.85, 10.4, 9.95, 9.5, 9.1], [4.93, 11.55, 11.1, 10.65, 10.15, 9.7, 9.25, 8.85],
  [5.02, 11.9, 11.45, 11.0, 10.55, 10.1, 9.65, 9.2, 8.8], [5.1, 11.4, 10.95, 10.5, 10.05, 9.6, 9.15, 8.7],
  [5.18, 11.55, 11.1, 10.65, 10.2, 9.75, 9.3, 8.85, 8.4], [5.25, 11.1, 10.65, 10.2, 9.75, 9.3, 8.85, 8.4, 7.95],
  [5.33, 11.2, 10.75, 10.3, 9.85, 9.4, 8.95, 8.5, 8.05, 7.6], [5.4, 10.7, 10.2, 9.75, 9.3, 8.85, 8.4, 7.95, 7.5, 7.05],
  [5.47, 10.2, 9.75, 9.3, 8.85, 8.4, 7.95, 7.5, 7.05, 6.65], [5.54, 9.9, 9.45, 9.0, 8.55, 8.1, 7.65, 7.2, 6.75, 6.35],
  [5.62, 9.55, 9.1, 8.65, 8.2, 7.75, 7.3, 6.85, 6.4, 6.0], [5.69, 9.25, 8.8, 8.35, 7.9, 7.45, 7.0, 6.55, 6.05],
  [5.77, 8.85, 8.4, 7.95, 7.5, 7.05, 6.6, 6.1, 5.7], [5.84, 8.55, 8.1, 7.65, 7.2, 6.75, 6.3, 5.85, 5.4],
  [5.92, 8.1, 7.65, 7.2, 6.75, 6.3, 5.85, 5.4], [5.99, 7.85, 7.4, 6.95, 6.5, 6.05, 5.6, 5.1],
  [6.07, 7.4, 6.95, 6.5, 6.05, 5.6, 5.15, 4.7], [6.15, 7.0, 6.6, 6.15, 5.7, 5.25, 4.8, 4.4],
  [6.23, 6.8, 6.35, 5.9, 5.45, 5.0, 4.55, 4.1, 3.7], [6.32, 6.4, 5.95, 5.5, 5.05, 4.6, 4.15, 3.7, 3.2],
  [6.41, 5.8, 5.35, 4.9, 4.45, 4.0, 3.55, 3.15], [6.49, 5.6, 5.15, 4.7, 4.3, 3.85, 3.4, 2.95, 2.6],
  [6.56, 5.0, 4.55, 4.1, 3.65, 3.2, 2.75, 2.2], [6.65, 4.95, 4.45, 4.0, 3.55, 3.1, 2.65, 2.2, 1.75],
  [6.75, 4.7, 4.25, 3.8, 3.35, 2.9, 2.45, 2.0, 1.6], [6.85, 4.2, 3.75, 3.3, 2.85, 2.4, 1.95, 1.5],
  [6.93, 4.1, 3.65, 3.2, 2.75, 2.3, 1.85, 1.2], [7.03, 3.8, 3.35, 2.9, 2.45, 2.0, 1.55, 1.1, 0.6],
  [7.1, 3.6, 3.15, 2.7, 2.25, 1.8, 1.35, 0.9, 0.5], [7.17, 3.2, 2.75, 2.3, 1.85, 1.4, 0.95, 0.5],
];

const labelValues = [1, 100, 10000, 1000000];
const tickValues = [
  1, 10, 20, 30, 40, 50, 60, 70, 80, 90, 100,
  1000, 2000, 3000, 4000, 5000, 6000, 7000, 8000, 9000, 10000,
  100000, 200000, 300000, 400000, 500000, 600000, 700000, 800000, 900000, 1000000,
  10000000, 20000000,
];

const toPoints = (cols: number[][]) =>
  cols.flatMap(([e, ...vals]) => vals.map((v) => [Math.pow(10, e), v * 1e-4]));

const FONT = "Liberation Sans";
const NAVY = "#002060";
const BLUE = "#0000FF";
const GREEN = "#008000";
const RED = "#FF0000";

const formatY = (v: number) => {
  const [m, e] = v.toExponential(1).split("e");
  const n = parseInt(e, 10);
  return `${m}E${n < 0 ? "-" : "+"}${String(Math.abs(n)).padStart(2, "0")}`;
};
const formatX = (v: number) => {
  if (!labelValues.some((t) => Math.abs(t / v - 1) < 1e-6)) return "";
  return `1.E+${String(Math.round(Math.log10(v))).padStart(2, "0")}`;
};

const richFor = (color: string) => ({
  n: { fontSize: 83.5, fontFamily: FONT, color, lineHeight: 100 },
  b: { fontSize: 83.5, fontFamily: FONT, fontWeight: "bold", color, lineHeight: 100 },
  s: { fontSize: 54, fontFamily: FONT, color, lineHeight: 36, verticalAlign: "bottom" },
});

const note = (x: number, baseline: number, color: string, text: string) => ({
  type: "text",
  x,
  y: baseline - 30,
  silent: true,
  style: {
    text,
    rich: richFor(color),
    fill: color,
    fontSize: 84,
    fontFamily: FONT,
    align: "left",
    verticalAlign: "middle",
  },
});

const scatter = (name: string, color: string, cols: number[][]) => ({
  name,
  type: "scatter",
  symbol: "circle",
  symbolSize: 25,
  itemStyle: { color, opacity: 1 },
  data: toPoints(cols),
  clip: false,
  silent: true,
});

export default function App() {
  const ref = useRef<HTMLDivElement>(null);
  useEffect(() => {
    const chart = echarts.init(ref.current!, undefined, { renderer: "svg" });
    chart.setOption({
      animation: false,
      backgroundColor: "#ffffff",
      grid: {
        left: 563,
        top: 71.5,
        width: 1635,
        height: 1608.5,
        show: true,
        borderColor: "#000",
        borderWidth: 7,
        containLabel: false,
      },
      xAxis: {
        type: "log",
        logBase: 10,
        min: 1,
        max: 2e7,
        name: "Time / ns",
        nameLocation: "middle",
        nameGap: 165,
        nameTextStyle: { fontSize: 83, fontFamily: FONT, color: "#000" },
        splitLine: { show: false },
        minorSplitLine: { show: false },
        axisLine: { show: true, onZero: false, lineStyle: { color: "#000", width: 7 } },
        axisTick: { show: false },
        axisLabel: {
          formatter: formatX,
          fontSize: 83,
          fontFamily: FONT,
          color: "#000",
          margin: 55,
          showMaxLabel: false,
        },
      },
      yAxis: {
        type: "value",
        min: -1e-3,
        max: 2e-3,
        interval: 5e-4,
        name: "ΔAbsorbance",
        nameLocation: "middle",
        nameGap: 412,
        nameRotate: 90,
        nameTextStyle: { fontSize: 84, fontFamily: FONT, color: "#000" },
        splitLine: { show: false },
        axisLine: { show: true, onZero: false, lineStyle: { color: "#000", width: 7 } },
        axisTick: { show: true, length: 27, lineStyle: { color: "#000", width: 7 } },
        axisLabel: { formatter: formatY, fontSize: 84, fontFamily: FONT, color: "#000", margin: 70 },
      },
      series: [
        scatter("RuP/Pt/TiO2", NAVY, [...navyColumns, ...navyDense]),
        scatter("PSS/RuP/Pt/TiO2", BLUE, [...blueColumns, ...blueDense]),
        scatter("PMA/RuP/Pt/TiO2", GREEN, [...greenColumns, ...greenDense]),
        scatter("RuP/Pt(in)/HCa2Nb3O10", RED, [...redColumns, ...redDense]),
        {
          type: "custom",
          silent: true,
          clip: false,
          data: tickValues.map((t) => [t, labelValues.includes(t) ? 26 : 20]),
          encode: { x: 0 },
          renderItem: (_: unknown, api: any) => {
            const p = api.coord([api.value(0), -1e-3]);
            return {
              type: "line",
              shape: { x1: p[0], y1: p[1], x2: p[0], y2: p[1] + api.value(1) },
              style: { stroke: "#000", lineWidth: 7 },
            };
          },
        },
      ],
      graphic: [
        note(636, 423, NAVY, "{b|RuP}{n|/Pt/TiO}{s|2}"),
        note(1280, 291, RED, "{b|RuP}{n|/Pt(in)/HCa}{s|2}{n|Nb}{s|3}{n|O}{s|10}"),
        note(1241, 1395, GREEN, "{n|PMA/}{b|RuP}{n|/Pt/TiO}{s|2}"),
        note(1241, 1516, BLUE, "{n|PSS/}{b|RuP}{n|/Pt/TiO}{s|2}"),
      ],
    });
    return () => chart.dispose();
  }, []);
  return <div ref={ref} style={{ position: "absolute", left: 0, top: 0, width: 2384, height: 1997 }} />;
}
